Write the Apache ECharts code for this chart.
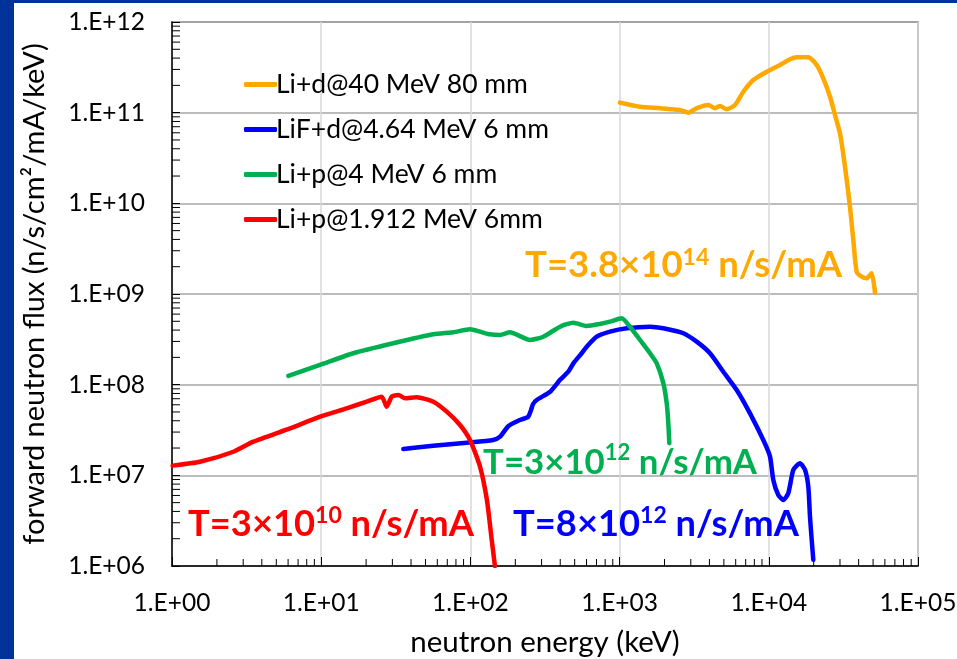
<!DOCTYPE html>
<html>
<head>
<meta charset="utf-8">
<script src="https://cdn.jsdelivr.net/npm/echarts@6/dist/echarts.min.js"></script>
<style>
html,body{margin:0;padding:0;background:#fff;}
#chart{width:957px;height:659px;}
</style>
</head>
<body>
<div id="chart"></div>
<script>
// ---- data (energy in keV, flux in n/s/cm2/mA/keV) ----
var seriesNames = ['Li+d@40 MeV 80 mm', 'LiF+d@4.64 MeV 6 mm', 'Li+p@4 MeV 6 mm', 'Li+p@1.912 MeV 6mm'];
var seriesColors = ['#FFA800', '#0000FF', '#00B050', '#FF0000'];

var liD40E = [1005, 1371, 1866, 2540, 2887, 3287, 3930, 4359, 4710, 5222, 5935, 6745, 7873, 9683, 11885, 13870, 15380, 18400, 20940, 23190, 25720, 27780, 29990, 32410, 35000, 36850, 38820, 41940, 45300, 48950, 51520];
var liD40F = [1.29e11, 1.16e11, 1.12e11, 1.07e11, 1.00e11, 1.12e11, 1.215e11, 1.12e11, 1.185e11, 1.09e11, 1.215e11, 1.70e11, 2.29e11, 2.83e11, 3.36e11, 3.88e11, 4.08e11, 4.08e11, 3.36e11, 2.39e11, 1.50e11, 9.43e10, 5.92e10, 2.54e10, 9.18e9, 3.94e9, 1.76e9, 1.55e9, 1.49e9, 1.69e9, 1.03e9];

var lifD464E = [35.5, 56.4, 94.5, 142, 158, 180, 215, 243, 255, 263, 278, 342, 399, 453, 490, 557, 602, 702, 862, 1116, 1599, 1963, 2673, 3287, 4036, 4955, 6093, 7482, 9187, 10190, 10720, 11580, 12510, 13510, 14600, 16190, 17480, 18400, 18880, 19390, 19870];
var lifD464F = [1.95e7, 2.12e7, 2.29e7, 2.45e7, 2.67e7, 3.50e7, 4.08e7, 4.40e7, 5.26e7, 6.12e7, 6.78e7, 8.37e7, 1.13e8, 1.39e8, 1.72e8, 2.22e8, 2.62e8, 3.38e8, 3.84e8, 4.19e8, 4.36e8, 4.19e8, 3.69e8, 2.98e8, 2.22e8, 1.39e8, 8.74e7, 4.83e7, 2.45e7, 1.61e7, 8.89e6, 6.07e6, 5.35e6, 6.34e6, 1.15e7, 1.36e7, 1.15e7, 7.50e6, 3.50e6, 1.94e6, 1.17e6];

var liP4E = [6.02, 9.82, 16.4, 30.4, 56.4, 76.8, 99.4, 116, 135, 158, 184, 251, 308, 399, 490, 602, 739, 862, 1033, 1174, 1371, 1599, 1774, 1963, 2069, 2121, 2154];
var liP4F = [1.25e8, 1.65e8, 2.22e8, 2.86e8, 3.59e8, 3.78e8, 4.08e8, 3.84e8, 3.59e8, 3.53e8, 3.78e8, 3.11e8, 3.38e8, 4.36e8, 4.83e8, 4.44e8, 4.67e8, 4.95e8, 5.40e8, 4.36e8, 3.11e8, 2.22e8, 1.72e8, 1.04e8, 6.23e7, 3.75e7, 2.26e7];

var liP1912E = [1.01, 1.54, 2.58, 3.51, 6.18, 9.82, 14.8, 20.2, 25.4, 27.5, 29.7, 32.9, 36.5, 43.6, 56.4, 69.4, 85.2, 99.4, 116, 129, 139, 146];
var liP1912F = [1.28e7, 1.41e7, 1.82e7, 2.35e7, 3.30e7, 4.43e7, 5.49e7, 6.49e7, 7.37e7, 5.72e7, 7.37e7, 7.69e7, 7.08e7, 7.26e7, 6.49e7, 5.04e7, 3.59e7, 2.45e7, 1.25e7, 5.35e6, 1.94e6, 1.0e6];

// axis ranges and tick structure
var xDecades = [1, 10, 100, 1000, 10000];
var yDecades = [1e6, 1e7, 1e8, 1e9, 1e10, 1e11];
var minorMultipliers = [2, 3, 4, 5, 6, 7, 8, 9];

// annotations
var annotations = [
  {main: 'T=3.8×10', sup: '14', tail: ' n/s/mA', color: '#FFA800', x: 525, y: 246, size: 36.5},
  {main: 'T=3×10', sup: '12', tail: ' n/s/mA', color: '#00B050', x: 483, y: 442, size: 34.8},
  {main: 'T=8×10', sup: '12', tail: ' n/s/mA', color: '#0000FF', x: 513, y: 504, size: 36.3},
  {main: 'T=3×10', sup: '10', tail: ' n/s/mA', color: '#FF0000', x: 188, y: 504, size: 36.3}
];

function pairs(xs, ys) {
  var out = [];
  for (var i = 0; i < xs.length; i++) out.push([xs[i], ys[i]]);
  return out;
}
var xMinor = [], yMinor = [];
xDecades.forEach(function (d) { minorMultipliers.forEach(function (m) { xMinor.push([d * m, 1e6]); }); });
yDecades.forEach(function (d) { minorMultipliers.forEach(function (m) { yMinor.push([1, d * m]); }); });

var FONT = 'Lato';
function expLabel(v) {
  var e = Math.round(Math.log10(v));
  var s = (e < 0 ? '-' : '+') + (Math.abs(e) < 10 ? '0' : '') + Math.abs(e);
  return '1.E' + s;
}

var chart = echarts.init(document.getElementById('chart'), null, {renderer: 'canvas'});

var lineData = [pairs(liD40E, liD40F), pairs(lifD464E, lifD464F), pairs(liP4E, liP4F), pairs(liP1912E, liP1912F)];
var series = lineData.map(function (d, i) {
  return {
    name: seriesNames[i], type: 'line', data: d, showSymbol: false, symbol: 'none',
    smooth: 0.2, z: 5,
    lineStyle: {color: seriesColors[i], width: 4.5, cap: 'round', join: 'round'},
    itemStyle: {color: seriesColors[i]}
  };
});
series.push({
  type: 'custom', name: 'xminor', data: xMinor, silent: true, clip: false, z: 3,
  renderItem: function (params, api) {
    var p = api.coord([api.value(0), api.value(1)]);
    return {type: 'line', shape: {x1: p[0], y1: p[1], x2: p[0], y2: p[1] - 7}, style: {stroke: '#000', lineWidth: 1}};
  }
});
series.push({
  type: 'custom', name: 'yminor', data: yMinor, silent: true, clip: false, z: 3,
  renderItem: function (params, api) {
    var p = api.coord([api.value(0), api.value(1)]);
    return {type: 'line', shape: {x1: p[0], y1: p[1], x2: p[0] + 8, y2: p[1]}, style: {stroke: '#000', lineWidth: 1}};
  }
});

var graphics = [
  {type: 'rect', left: 0, top: 0, shape: {width: 14, height: 659}, style: {fill: '#003399'}, z: 100},
  {type: 'rect', left: 0, top: 0, shape: {width: 957, height: 3}, style: {fill: '#003399'}, z: 100}
];
annotations.forEach(function (a) {
  graphics.push({
    type: 'text', left: a.x, top: a.y, z: 50,
    style: {
      text: '{m|' + a.main + '}{s|' + a.sup + '}{m|' + a.tail + '}',
      rich: {
        m: {fontFamily: FONT, fontWeight: 'bold', fontSize: a.size, lineHeight: 38, fill: a.color, verticalAlign: 'bottom'},
        s: {fontFamily: FONT, fontWeight: 'bold', fontSize: Math.round(a.size * 0.64), lineHeight: 38, fill: a.color, verticalAlign: 'top'}
      }
    }
  });
});

chart.setOption({
  animation: false,
  backgroundColor: '#ffffff',
  textStyle: {fontFamily: FONT},
  grid: {left: 172, right: 39, top: 22, bottom: 93, show: true, borderColor: '#7a7a7a', borderWidth: 1.5,
         containLabel: false, outerBoundsMode: 'none'},
  legend: {
    data: seriesNames, orient: 'vertical', left: 239, top: 66,
    icon: 'roundRect', itemWidth: 33, itemHeight: 5, itemGap: 18,
    textStyle: {fontFamily: FONT, fontSize: 26.5, color: '#000', lineHeight: 27, padding: [0, 0, 0, -6]}
  },
  xAxis: {
    type: 'log', logBase: 10, min: 1, max: 1e5,
    name: 'neutron energy (keV)', nameLocation: 'middle', nameGap: 61,
    nameTextStyle: {fontFamily: FONT, fontSize: 29.5, color: '#000'},
    axisLine: {show: true, lineStyle: {color: '#000', width: 1.5}},
    axisTick: {show: true, inside: true, length: 9, lineStyle: {color: '#000', width: 1}},
    axisLabel: {formatter: expLabel, fontFamily: FONT, fontSize: 24.5, color: '#000', margin: 25},
    splitLine: {show: true, lineStyle: {color: '#d9d9d9', width: 1.5}},
    minorTick: {show: false}
  },
  yAxis: {
    type: 'log', logBase: 10, min: 1e6, max: 1e12,
    name: 'forward neutron flux (n/s/cm²/mA/keV)', nameLocation: 'middle', nameGap: 123,
    nameTextStyle: {fontFamily: FONT, fontSize: 29, color: '#000'},
    axisLine: {show: true, lineStyle: {color: '#000', width: 1.5}},
    axisTick: {show: true, inside: true, length: 8, lineStyle: {color: '#000', width: 1}},
    axisLabel: {formatter: expLabel, fontFamily: FONT, fontSize: 24.5, color: '#000', margin: 27},
    splitLine: {show: true, lineStyle: {color: '#a6a6a6', width: 1.5}},
    minorTick: {show: false}
  },
  series: series,
  graphic: graphics
});
</script>
</body>
</html>
